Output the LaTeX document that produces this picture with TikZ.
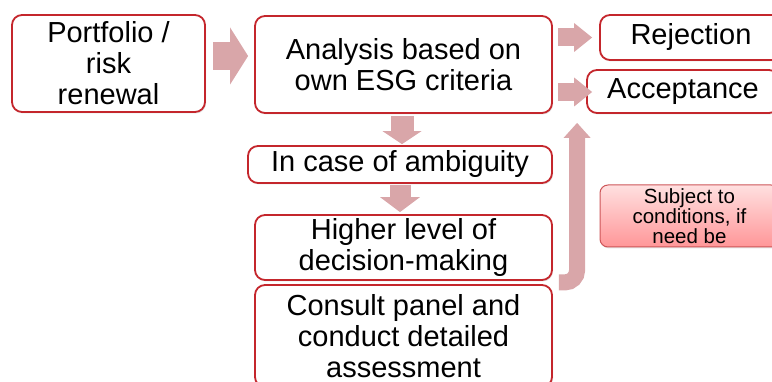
\documentclass[tikz,border=0pt]{standalone}
\usepackage{fontspec}
\setmainfont{Liberation Sans}
\usetikzlibrary{arrows.meta,calc,shadows}
\definecolor{boxred}{RGB}{196,38,44}
\definecolor{arrpink}{RGB}{217,166,169}
\definecolor{subjtop}{RGB}{255,224,224}
\definecolor{subjbot}{RGB}{255,150,152}
\definecolor{subjborder}{RGB}{205,85,88}
\tikzset{
  stepbox/.style={draw=boxred, line width=1.8pt, rounded corners=10pt, fill=white,
    align=center, inner sep=0pt, font=\fontsize{29}{31}\selectfont,
    drop shadow={shadow xshift=1pt, shadow yshift=-1.5pt, opacity=0.2}},
  notebox/.style={draw=subjborder, line width=1pt, rounded corners=8pt,
    top color=subjtop, bottom color=subjbot, align=center, inner sep=0pt,
    font=\fontsize{20.5}{20}\selectfont,
    drop shadow={shadow xshift=1pt, shadow yshift=-1.5pt, opacity=0.2}},
  fatarrow/.style={draw=arrpink, line cap=butt}
}
\begin{document}
\begin{tikzpicture}[x=1pt,y=-1pt]
\useasboundingbox (0,0) rectangle (772,382);
\clip (0,0) rectangle (772,382);
\node[stepbox, minimum width=193pt, minimum height=97pt] (pf) at (108.5,63.5) {Portfolio /\\risk\\renewal};
\node[stepbox, minimum width=297pt, minimum height=97pt] (an) at (403.5,64.5) {Analysis based on\\own ESG criteria};
\node[stepbox, minimum width=182pt, minimum height=45pt] (rej) at (691,37.5) {Rejection};
\node[stepbox, minimum width=192pt, minimum height=43pt] (acc) at (683,91.5) {Acceptance};
\node[stepbox, minimum width=304pt, minimum height=37pt] (amb) at (400,164.5) {In case of ambiguity};
\node[stepbox, minimum width=297pt, minimum height=65pt] (hl) at (403.5,247.5) {Higher level of\\decision-making};
\node[stepbox, minimum width=297pt, minimum height=102pt] (cp) at (403.5,336) {Consult panel and\\conduct detailed\\assessment};
\node[notebox, minimum width=179pt, minimum height=62pt] (subj) at (689.5,216) {Subject to\\conditions, if\\need be};

\draw[fatarrow, line width=28pt, -{Triangle[length=18pt,width=57pt,line width=0pt]}]
  ([xshift=7pt,yshift=7.5pt]pf.east) -- ([xshift=-6pt,yshift=8.5pt]an.west);
\draw[fatarrow, line width=18pt, -{Triangle[length=18pt,width=29pt,line width=0pt]}]
  ([xshift=5pt,yshift=27pt]an.east) -- ([xshift=-7pt,yshift=0pt]rej.west);
\draw[fatarrow, line width=18pt, -{Triangle[length=18pt,width=29pt,line width=0pt]}]
  ([xshift=5pt,yshift=-27.5pt]an.east) -- ([xshift=6pt,yshift=-0.5pt]acc.west);
\draw[fatarrow, line width=23pt, -{Triangle[length=13pt,width=39pt,line width=0pt]}]
  ([xshift=-1.5pt,yshift=-2pt]an.south) -- ([xshift=2pt,yshift=1pt]amb.north);
\draw[fatarrow, line width=21pt, -{Triangle[length=15pt,width=40pt,line width=0pt]}]
  ([yshift=-1pt]amb.south) -- ([xshift=-3.5pt,yshift=2pt]hl.north);
\coordinate (bs) at ([xshift=6pt,yshift=-1.5pt]hl.south east);
\draw[fatarrow, line width=16pt, rounded corners=12pt, -{Triangle[length=15pt,width=27pt,line width=0pt]}]
  (bs) -| ([xshift=-9pt,yshift=-9pt]acc.south west);
\end{tikzpicture}
\end{document}
